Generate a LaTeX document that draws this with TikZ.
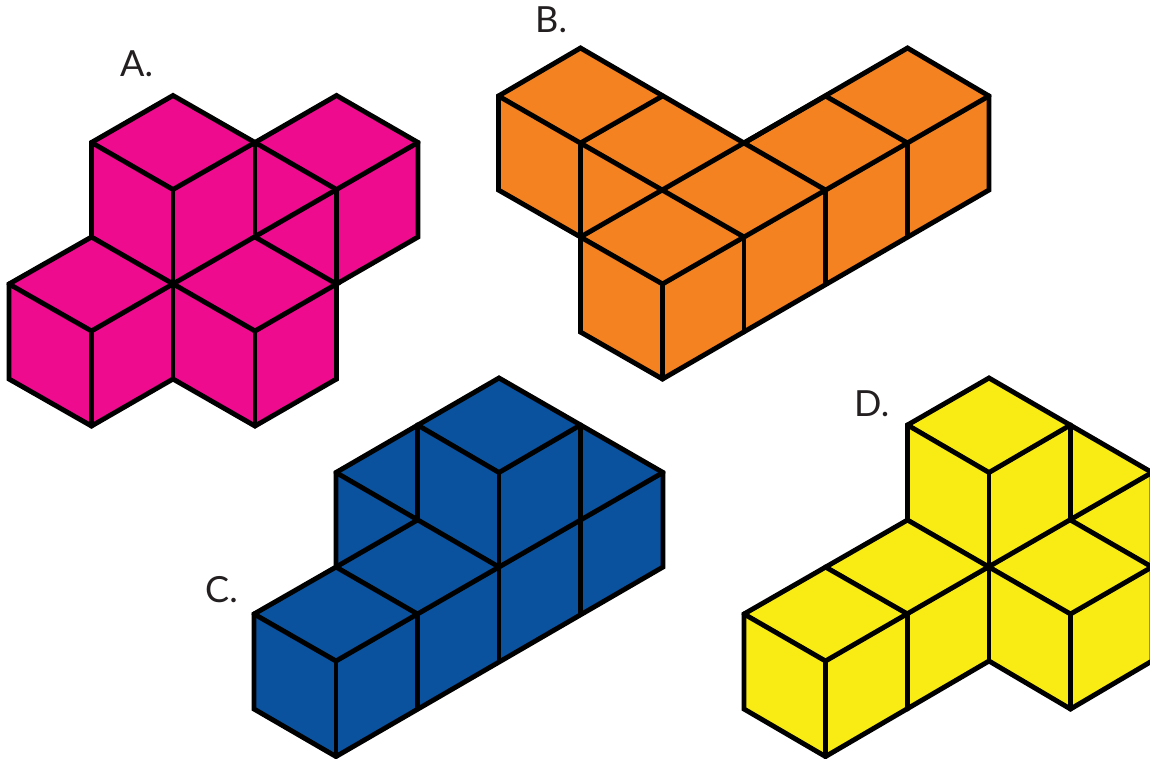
\documentclass[tikz,border=0pt]{standalone}
\usepackage{fontspec}
\setmainfont{Lato}
\definecolor{cubepink}{HTML}{EE0B8E}
\definecolor{cubeorange}{HTML}{F58220}
\definecolor{cubeblue}{HTML}{0A529E}
\definecolor{cubeyellow}{HTML}{F9EC14}
\definecolor{labelink}{HTML}{231F20}
\tikzset{
  solid outline/.style={draw=black,line width=4.9pt,line join=miter,miter limit=10},
  inner edge/.style={draw=black,line width=4.9pt,line cap=round,line join=miter},
  letter/.style={anchor=base west,inner sep=0pt,text=labelink,font=\fontsize{36}{36}\selectfont}
}
\begin{document}
\begin{tikzpicture}[x=1pt,y=-1pt]
\useasboundingbox (0,0) rectangle (1150,758);
\clip (0,0) rectangle (1150,758);
% A
\path[solid outline,fill=cubepink] (173,95.5)--(255,142.5)--(336.5,95.5)--(418,142.5)--(418,237)--(336.5,284)--(336.5,379)--(255,426)--(173,379)--(91.5,426)--(9,379)--(9,284)--(91.5,237)--(91.5,142.5)--cycle;
\path[inner edge] (91.5,142.5)--(173,189.5)--(255,142.5)--(336.5,189.5)--(418,142.5);
\path[inner edge] (173,189.5)--(173,379);
\path[inner edge] (255,142.5)--(255,237);
\path[inner edge] (336.5,189.5)--(336.5,379);
\path[inner edge] (336.5,189.5)--(91.5,331)--(9,284);
\path[inner edge] (91.5,237)--(255,331)--(336.5,284)--(255,237);
\path[inner edge] (255,331)--(255,426);
\path[inner edge] (91.5,331)--(91.5,426);
% B
\path[solid outline,fill=cubeorange] (580.5,48)--(744,143)--(907.5,48)--(989,96)--(989,190)--(662.5,379)--(580.5,332)--(580.5,237)--(498.5,190)--(498.5,96)--cycle;
\path[inner edge] (498.5,96)--(744,237);
\path[inner edge] (580.5,143)--(662.5,96);
\path[inner edge] (580.5,143)--(580.5,332);
\path[inner edge] (580.5,237)--(825.5,96);
\path[inner edge] (744,143)--(825.5,190);
\path[inner edge] (825.5,96)--(907.5,143);
\path[inner edge] (989,96)--(662.5,284)--(580.5,237);
\path[inner edge] (662.5,284)--(662.5,379);
\path[inner edge] (744,237)--(744,332);
\path[inner edge] (825.5,190)--(825.5,284);
\path[inner edge] (907.5,143)--(907.5,237);
% C
\path[solid outline,fill=cubeblue] (499,378)--(663,472.5)--(663,567)--(336,756.5)--(254,709)--(254,614)--(336,567)--(336,472.5)--cycle;
\path[inner edge] (417.5,425)--(499,472.5)--(580.5,425);
\path[inner edge] (336,472.5)--(499,567);
\path[inner edge] (417.5,425)--(417.5,520);
\path[inner edge] (499,472.5)--(499,661);
\path[inner edge] (580.5,425)--(580.5,614);
\path[inner edge] (663,472.5)--(336,661)--(254,614);
\path[inner edge] (336,567)--(417.5,614);
\path[inner edge] (336,567)--(417.5,520);
\path[inner edge] (417.5,614)--(417.5,709);
\path[inner edge] (336,661)--(336,756.5);
% D
\path[solid outline,fill=cubeyellow] (989,378)--(1152,472.5)--(1152,661)--(1070.5,709)--(989,661)--(825.5,756.5)--(744,709)--(744,614)--(907.5,520)--(907.5,425)--cycle;
\path[inner edge] (907.5,425)--(989,472.5)--(1070.5,425);
\path[inner edge] (989,472.5)--(989,661);
\path[inner edge] (1070.5,425)--(1070.5,520);
\path[inner edge] (1152,472.5)--(825.5,661)--(744,614);
\path[inner edge] (907.5,520)--(1070.5,614)--(1152,567)--(1070.5,520);
\path[inner edge] (825.5,567)--(907.5,614);
\path[inner edge] (907.5,614)--(907.5,709);
\path[inner edge] (825.5,661)--(825.5,756.5);
\path[inner edge] (1070.5,614)--(1070.5,709);
% labels
\node[letter] (labA) at (120,76) {A.};
\node[letter] (labB) at (535,32) {B.};
\node[letter] (labC) at (205,602) {C.};
\node[letter] (labD) at (854,416) {D.};
\end{tikzpicture}
\end{document}
